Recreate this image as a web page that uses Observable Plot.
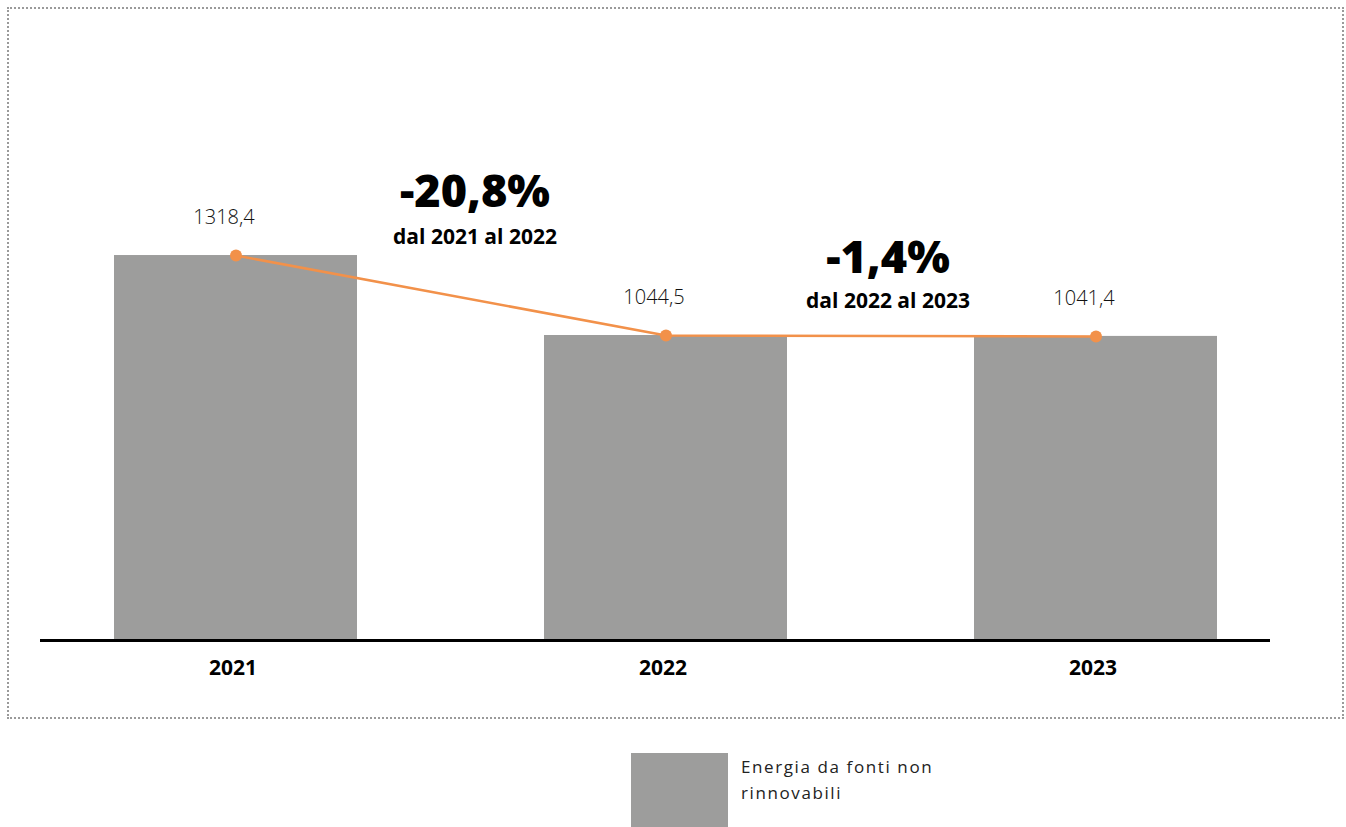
<!DOCTYPE html>
<html>
<head>
<meta charset="utf-8">
<script src="https://cdn.jsdelivr.net/npm/d3@7"></script>
<script src="https://cdn.jsdelivr.net/npm/@observablehq/plot@0.6"></script>
<style>
  html, body { margin: 0; padding: 0; background: #fff; font-family: "Open Sans", sans-serif; }
  #wrap { position: relative; width: 1346px; height: 827px; overflow: hidden; }
  #frame { position: absolute; left: 7px; top: 7px; width: 1333px; height: 708px; border: 2px dotted #9a9a9a; pointer-events: none; }
  #chart { position: absolute; left: 0; top: 0; }
  #legend { position: absolute; left: 631px; top: 753px; display: flex; align-items: flex-start; }
  #legend .sw { width: 97px; height: 74px; background: #9d9d9c; }
  #legend .lb { margin-left: 13px; margin-top: 1px; font-size: 17px; line-height: 26px; color: #222; font-weight: 400; letter-spacing: 1.6px; }
</style>
</head>
<body>
<div id="wrap">
  <div id="chart"></div>
  <div id="frame"></div>
  <div id="legend"><div class="sw"></div><div class="lb">Energia da fonti non<br>rinnovabili</div></div>
</div>
<script>
const years = ["2021", "2022", "2023"];
const values = [1318.4, 1044.5, 1041.4];
const valueLabels = ["1318,4", "1044,5", "1041,4"];
const changeLabels = ["-20,8%", "-1,4%"];
const changeSubLabels = ["dal 2021 al 2022", "dal 2022 al 2023"];
const seriesName = "Energia da fonti non rinnovabili";

const data = years.map((y, i) => ({year: y, value: values[i], label: valueLabels[i]}));
const changes = changeLabels.map((c, i) => ({year: years[i], value: values[i], pct: c, sub: changeSubLabels[i]}));

const gray = "#9d9d9c";
const orange = "#f2914a";

const pctStyle = {fontSize: 45, fontWeight: 800, fill: "#000", lineHeight: 0.9};
const subStyle = {fontSize: 21, fontWeight: 700, fill: "#000", letterSpacing: 0.9};

const plot = Plot.plot({
  width: 1346,
  height: 720,
  marginLeft: 40,
  marginRight: 76,
  marginTop: 56,
  marginBottom: 80,
  style: {fontFamily: "'Open Sans', sans-serif", background: "transparent"},
  x: {type: "band", domain: years, paddingInner: 0.436, paddingOuter: 0.145, align: 0.584, label: null},
  y: {domain: [0, 2000], axis: null},
  marks: [
    Plot.barY(data, {x: "year", y: "value", fill: gray}),
    Plot.ruleY([0], {stroke: "#000", strokeWidth: 3}),
    Plot.axisX({tickSize: 0, tickPadding: 20, fontSize: 21, fontWeight: 700, fill: "#000", label: null, dx: -3}),
    Plot.line(data, {x: "year", y: "value", stroke: orange, strokeWidth: 2.5}),
    Plot.dot(data, {x: "year", y: "value", fill: orange, r: 6}),
    Plot.text(data, {x: "year", y: "value", text: "label", dy: -38, dx: -12, fontSize: 20, fontWeight: 300, fill: "#111", letterSpacing: 0.3}),
    Plot.text([changes[0]], {x: "year", y: "value", text: "pct", dx: 239, dy: -61, ...pctStyle}),
    Plot.text([changes[0]], {x: "year", y: "value", text: "sub", dx: 239, dy: -18, ...subStyle}),
    Plot.text([changes[1]], {x: "year", y: "value", text: "pct", dx: 222, dy: -75, ...pctStyle}),
    Plot.text([changes[1]], {x: "year", y: "value", text: "sub", dx: 222, dy: -34, ...subStyle})
  ]
});
document.getElementById("chart").appendChild(plot);
</script>
</body>
</html>
